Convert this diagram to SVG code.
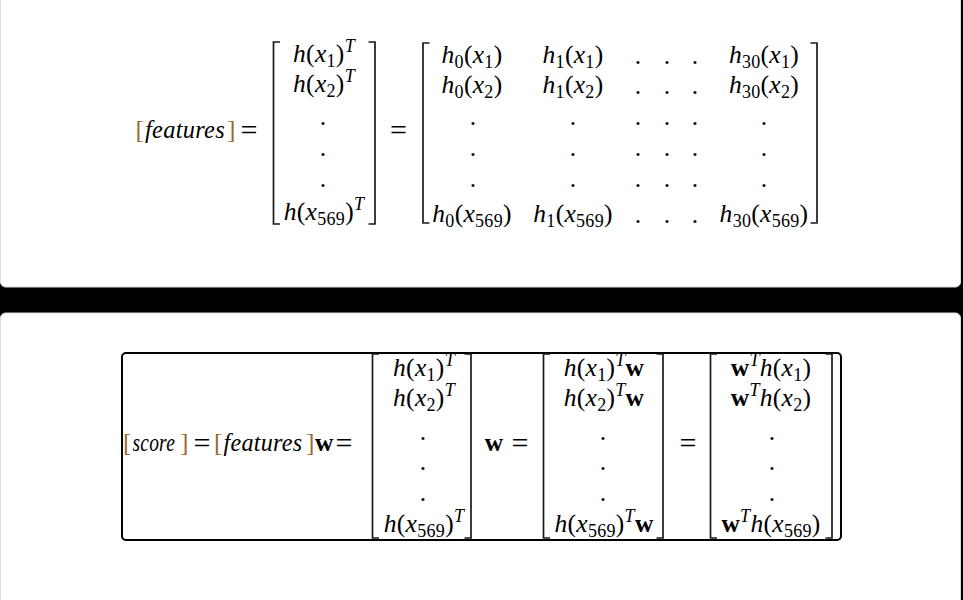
<svg xmlns="http://www.w3.org/2000/svg" width="963" height="600" viewBox="0 0 963 600">
<style>
.m{font-family:"Liberation Serif",serif;font-style:italic;font-size:25.5px;fill:#000;letter-spacing:0.3px}
.c{text-anchor:middle}
.r{font-style:normal}
.eq{font-style:normal;font-size:30px;letter-spacing:0;fill:#000}
.sb{font-style:normal;font-size:18px}
.sp{font-style:italic;font-size:18px}
.b{font-style:normal;font-weight:bold}
.br{fill:#9a6a35;font-style:normal;letter-spacing:0}
.brk{fill:none;stroke:#1a1a1a;stroke-width:1.7}
.box{fill:none;stroke:#000;stroke-width:2}
</style>
<rect x="0" y="0" width="963" height="600" fill="#000"/>
<rect x="0.5" y="-10" width="960" height="297" rx="5" fill="#fff" stroke="#ddd"/>
<rect x="0.5" y="313" width="960" height="300" rx="5" fill="#fff" stroke="#ddd"/>

<g id="top-lhs">
<text class="m br" x="135.5" y="138">[</text>
<text class="m" x="145" y="138" textLength="80" lengthAdjust="spacingAndGlyphs">features</text>
<text class="m br" x="227" y="138">]</text>
<text class="m eq c" x="249" y="140">=</text>
</g>

<g id="top-vector">
<path class="brk" d="M280 42H273.5V224H280"/>
<path class="brk" d="M368.5 42H375V224H368.5"/>
<text class="m c" x="324" y="62">h<tspan class="r">(</tspan>x<tspan class="sb" dy="5">1</tspan><tspan class="r" dy="-5">)</tspan><tspan class="sp" dy="-10">T</tspan></text>
<text class="m c" x="324" y="92">h<tspan class="r">(</tspan>x<tspan class="sb" dy="5">2</tspan><tspan class="r" dy="-5">)</tspan><tspan class="sp" dy="-10">T</tspan></text>
<text class="m r c" x="323" y="124.5">.</text>
<text class="m r c" x="323" y="155.5">.</text>
<text class="m r c" x="323" y="186.5">.</text>
<text class="m c" x="324" y="220">h<tspan class="r">(</tspan>x<tspan class="sb" dy="5">569</tspan><tspan class="r" dy="-5">)</tspan><tspan class="sp" dy="-10">T</tspan></text>
</g>

<text class="m eq c" x="398.5" y="140">=</text>

<g id="top-matrix">
<path class="brk" d="M429.5 43H423V223H429.5"/>
<path class="brk" d="M810.5 43H817V223H810.5"/>
<text class="m c" x="472" y="63">h<tspan class="sb" dy="5">0</tspan><tspan class="r" dy="-5">(</tspan>x<tspan class="sb" dy="5">1</tspan><tspan class="r" dy="-5">)</tspan></text>
<text class="m c" x="573" y="63">h<tspan class="sb" dy="5">1</tspan><tspan class="r" dy="-5">(</tspan>x<tspan class="sb" dy="5">1</tspan><tspan class="r" dy="-5">)</tspan></text>
<text class="m c" x="764" y="63">h<tspan class="sb" dy="5">30</tspan><tspan class="r" dy="-5">(</tspan>x<tspan class="sb" dy="5">1</tspan><tspan class="r" dy="-5">)</tspan></text>
<text class="m c" x="472" y="93">h<tspan class="sb" dy="5">0</tspan><tspan class="r" dy="-5">(</tspan>x<tspan class="sb" dy="5">2</tspan><tspan class="r" dy="-5">)</tspan></text>
<text class="m c" x="573" y="93">h<tspan class="sb" dy="5">1</tspan><tspan class="r" dy="-5">(</tspan>x<tspan class="sb" dy="5">2</tspan><tspan class="r" dy="-5">)</tspan></text>
<text class="m c" x="764" y="93">h<tspan class="sb" dy="5">30</tspan><tspan class="r" dy="-5">(</tspan>x<tspan class="sb" dy="5">2</tspan><tspan class="r" dy="-5">)</tspan></text>
<text class="m c" x="472" y="222">h<tspan class="sb" dy="5">0</tspan><tspan class="r" dy="-5">(</tspan>x<tspan class="sb" dy="5">569</tspan><tspan class="r" dy="-5">)</tspan></text>
<text class="m c" x="573" y="222">h<tspan class="sb" dy="5">1</tspan><tspan class="r" dy="-5">(</tspan>x<tspan class="sb" dy="5">569</tspan><tspan class="r" dy="-5">)</tspan></text>
<text class="m c" x="764" y="222">h<tspan class="sb" dy="5">30</tspan><tspan class="r" dy="-5">(</tspan>x<tspan class="sb" dy="5">569</tspan><tspan class="r" dy="-5">)</tspan></text>
<g class="m r c">
<text x="638" y="64">.</text><text x="667" y="64">.</text><text x="695" y="64">.</text>
<text x="638" y="94">.</text><text x="667" y="94">.</text><text x="695" y="94">.</text>
<text x="638" y="223">.</text><text x="667" y="223">.</text><text x="695" y="223">.</text>
<text x="473" y="124.5">.</text><text x="573" y="124.5">.</text><text x="638" y="124.5">.</text><text x="667" y="124.5">.</text><text x="695" y="124.5">.</text><text x="764" y="124.5">.</text>
<text x="473" y="155.5">.</text><text x="573" y="155.5">.</text><text x="638" y="155.5">.</text><text x="667" y="155.5">.</text><text x="695" y="155.5">.</text><text x="764" y="155.5">.</text>
<text x="473" y="186.5">.</text><text x="573" y="186.5">.</text><text x="638" y="186.5">.</text><text x="667" y="186.5">.</text><text x="695" y="186.5">.</text><text x="764" y="186.5">.</text>
</g>
</g>

<g id="bottom">
<rect class="box" x="122" y="353" width="719" height="187" rx="4"/>
<g id="bottom-lhs">
<text class="m br" x="123" y="451">[</text>
<text class="m" x="132.5" y="451" textLength="42.5" lengthAdjust="spacingAndGlyphs">score</text>
<text class="m br" x="180" y="451">]<tspan class="eq" x="193.5" dy="2">=</tspan></text>
<text class="m br" x="214" y="451">[</text>
<text class="m" x="223.5" y="451" textLength="79" lengthAdjust="spacingAndGlyphs">features</text>
<text class="m br" x="306" y="451">]</text>
<text class="m b" x="315" y="451">w</text>
<text class="m eq c" x="344" y="453">=</text>
</g>
<g id="bottom-vector">
<path class="brk" d="M379 354H372.5V538H379"/>
<path class="brk" d="M464.5 354H471V538H464.5"/>
<text class="m c" x="424" y="376">h<tspan class="r">(</tspan>x<tspan class="sb" dy="5">1</tspan><tspan class="r" dy="-5">)</tspan><tspan class="sp" dy="-10">T</tspan></text>
<text class="m c" x="424" y="406">h<tspan class="r">(</tspan>x<tspan class="sb" dy="5">2</tspan><tspan class="r" dy="-5">)</tspan><tspan class="sp" dy="-10">T</tspan></text>
<text class="m r c" x="423" y="439.5">.</text>
<text class="m r c" x="423" y="470">.</text>
<text class="m r c" x="423" y="500.5">.</text>
<text class="m c" x="424" y="532">h<tspan class="r">(</tspan>x<tspan class="sb" dy="5">569</tspan><tspan class="r" dy="-5">)</tspan><tspan class="sp" dy="-10">T</tspan></text>
</g>
<text class="m b c" x="494" y="451">w</text>
<text class="m eq c" x="520" y="453">=</text>
<g id="bottom-product">
<path class="brk" d="M550 354H543.5V538H550"/>
<path class="brk" d="M656.5 354H663V538H656.5"/>
<text class="m c" x="604" y="376">h<tspan class="r">(</tspan>x<tspan class="sb" dy="5">1</tspan><tspan class="r" dy="-5">)</tspan><tspan class="sp" dy="-10">T</tspan><tspan class="b" dy="10">w</tspan></text>
<text class="m c" x="604" y="406">h<tspan class="r">(</tspan>x<tspan class="sb" dy="5">2</tspan><tspan class="r" dy="-5">)</tspan><tspan class="sp" dy="-10">T</tspan><tspan class="b" dy="10">w</tspan></text>
<text class="m r c" x="603" y="439.5">.</text>
<text class="m r c" x="603" y="470">.</text>
<text class="m r c" x="603" y="500.5">.</text>
<text class="m c" x="604" y="532">h<tspan class="r">(</tspan>x<tspan class="sb" dy="5">569</tspan><tspan class="r" dy="-5">)</tspan><tspan class="sp" dy="-10">T</tspan><tspan class="b" dy="10">w</tspan></text>
</g>
<text class="m eq c" x="688" y="453">=</text>
<g id="bottom-result">
<path class="brk" d="M717 354H710.5V538H717"/>
<path class="brk" d="M825.5 354H832V538H825.5"/>
<text class="m c" x="771" y="376"><tspan class="b">w</tspan><tspan class="sp" dy="-10">T</tspan><tspan dy="10">h</tspan><tspan class="r">(</tspan>x<tspan class="sb" dy="5">1</tspan><tspan class="r" dy="-5">)</tspan></text>
<text class="m c" x="771" y="406"><tspan class="b">w</tspan><tspan class="sp" dy="-10">T</tspan><tspan dy="10">h</tspan><tspan class="r">(</tspan>x<tspan class="sb" dy="5">2</tspan><tspan class="r" dy="-5">)</tspan></text>
<text class="m r c" x="772" y="439.5">.</text>
<text class="m r c" x="772" y="470">.</text>
<text class="m r c" x="772" y="500.5">.</text>
<text class="m c" x="771" y="532"><tspan class="b">w</tspan><tspan class="sp" dy="-10">T</tspan><tspan dy="10">h</tspan><tspan class="r">(</tspan>x<tspan class="sb" dy="5">569</tspan><tspan class="r" dy="-5">)</tspan></text>
</g>
</g>
</svg>
